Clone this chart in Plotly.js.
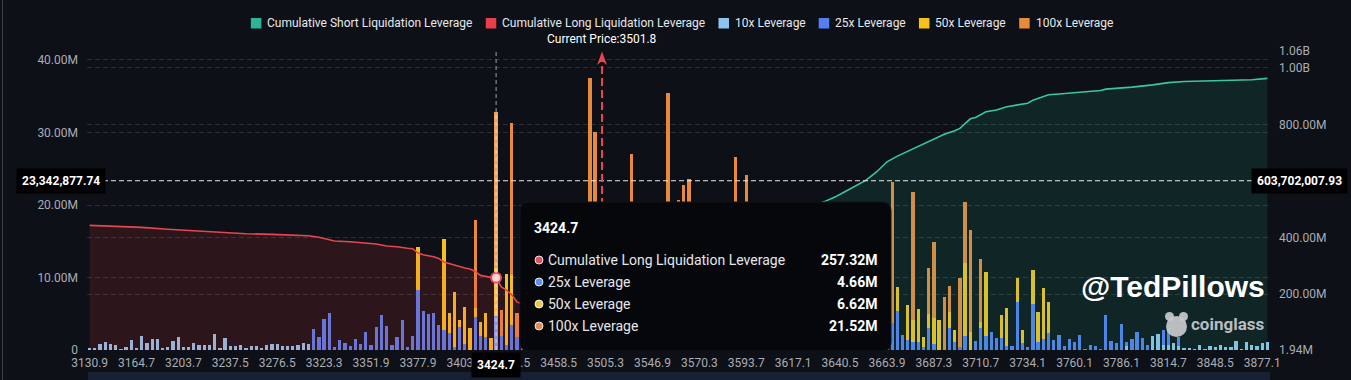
<!DOCTYPE html>
<html>
<head>
<meta charset="utf-8">
<script src="https://cdn.plot.ly/plotly-3.0.1.min.js"></script>
<style>
html,body{margin:0;padding:0;background:#0d1016;overflow:hidden;}
#chart{width:1351px;height:380px;}
</style>
</head>
<body>
<div id="chart"></div>
<script>
// ================= DATA (values in millions USD) =================
const tickLabels = ['3130.9','3164.7','3203.7','3237.5','3276.5','3323.3','3351.9','3377.9','3403.1','3437.5',
  '3458.5','3505.3','3546.9','3570.3','3593.7','3617.1','3640.5','3663.9','3687.3','3710.7',
  '3734.1','3760.1','3786.1','3814.7','3848.5','3877.1'];

const lev10 = [
  0.25,0.25,0.8,1.05,0.85,0.65,0.2,0.45,1.4,0.3,
  1.9,0.9,1.5,1.5,0.3,0.4,1.25,1.75,0.45,0.45,
  0.9,0.7,0.65,0.65,2.2,0.3,1.65,0.55,0.55,0.7,
  0.3,0.55,0.55,0.3,0.65,0.85,0.85,0.55,0.55,0.55,
  0.75,0.9,0.8,0,0,0,0,0,0,0,
  0,0,0,0,0,0,0,0,0,0,
  0,0,0,0,0,0,0,0,0,0,
  0,0,0,0,0,0,0,0,0,0,
  0,0,0,0,0,0,0,0,0,0,
  0,0,0,0,0,0,0,0,0,0,
  0,0,0,0,0,0,0,0,0,0,
  0,0,0,0,0,0,0,0,0,0,
  0,0,0,0,0,0,0,0,0,0,
  0,0,0,0,0,0,0,0,0,0,
  0,0,0,0,0,0,0,0,0,0,
  0,0,0,0,0,0,0,0,0,0,
  0,0,0,0,0,0,0,0,0,0,
  0,0,0,0,0,0,0,0,0,0,
  0,0,0,0,0,0,0,0,0,0,
  0,0,0,0,0,0,0,0,0,0.5,
  0,0,0,0,1.95,2.2,0.7,0.7,0.9,0.5,
  0.25,0.25,0.2,0.7,0.2,0.55,0.45,0.7,0.35,0.45,
  1.3,0.2,1.1,0.7,0.55,0.9,1.15];

const lev25 = [
  0,0,0,0,0,0,0,0,0,0,
  0,0,0,0,0,0,0,0,0,0,
  0,0,0,0,0,0,0,0,0,0,
  0,0,0,0,0,0,0,0,0,0,
  0,0,0,2.9,1.75,4.3,5.1,0.35,1.4,1.0,
  0.55,1.5,0.8,2.5,0.7,3.2,4.8,3.3,0.65,1.85,
  4.1,0.45,1.9,8.3,5.4,4.9,5.05,3.4,2.75,2.3,
  0.45,3.2,0.8,0,4.5,2.0,1.85,0,4.66,1.9,
  0.7,3.4,1.8,2.0,1.5,2.5,1.0,1.8,0.8,2.2,
  1.0,1.5,0.7,1.6,0.9,1.2,2.0,1.5,1.0,1.5,
  0.8,2.0,1.2,1.8,2.0,1.0,1.6,2.2,0.9,1.4,
  2.0,2.5,1.0,2.0,2.2,2.1,1.3,1.8,0.8,2.4,
  1.1,1.9,1.5,2.3,2.4,1.2,2.1,1.6,2.0,1.0,
  2.5,1.4,1.8,2.6,1.1,2.2,1.5,2.8,1.2,2.0,
  2.4,1.6,2.2,3.0,1.5,2.5,1.8,2.9,1.4,2.6,
  2.0,3.0,1.7,3.5,3.7,5.4,2.1,1.4,1.05,1.05,
  0.45,3.1,0.8,0,0,3.1,1.15,0.45,2.0,0,
  1.3,3.1,2.0,2.45,1.6,1.6,0.6,0.6,6.6,0.9,
  0.45,6.3,1.05,1.5,2.3,1.4,2.05,0.55,1.45,1.15,
  2.05,0.1,0.7,0.6,0.15,4.8,1.25,0.9,3.6,0.55,
  1.45,2.45,1.6,0.7,0,0,2.05,2.4,0,1.35,
  0,0,0,0,0,0,0,0,0,0,
  0,0,0,0,0,0,0];

const lev50 = [
  0,0,0,0,0,0,0,0,0,0,
  0,0,0,0,0,0,0,0,0,0,
  0,0,0,0,0,0,0,0,0,0,
  0,0,0,0,0,0,0,0,0,0,
  0,0,0,0,0,0,0,0,0,0,
  0,0,0,0,0,0,0,0,0,0,
  0,0,0,5.95,0,0,0,0,12.55,2.85,
  7.6,1.0,5.1,3.1,1.3,1.8,3.3,1.6,6.62,0,
  9.8,6.9,0,3.0,2.0,4.0,1.5,3.2,1.2,2.8,
  2.0,2.5,1.3,2.4,1.6,1.8,3.5,2.6,2.0,2.5,
  1.7,3.0,2.3,3.2,3.0,2.0,2.9,3.8,1.6,2.6,
  3.5,3.9,2.0,3.2,3.1,3.5,2.2,3.0,1.7,3.6,
  1.9,2.8,2.5,3.7,3.2,2.1,3.0,2.4,3.0,1.8,
  3.5,2.6,3.2,3.9,1.9,3.3,2.5,4.2,2.3,3.0,
  3.6,2.8,3.4,4.5,2.5,3.8,3.0,4.1,2.6,4.4,
  3.0,5.0,2.8,4.0,0,3.3,0,4.8,3.05,4.55,
  1.4,1.9,3.6,4.2,0,2.2,1.6,0,9.95,2.45,
  0,0.7,8.8,0,0,3.2,5.25,0,3.4,1.85,
  0,4.7,4.25,7.0,4.35,0,0,0,0,0,
  0,0,0,0,0,0,0,0,0,0,
  0,0,0,0,0,0,0,0,0,0,
  0,0,0,0,0,0,0,0,0,0,
  0,0,0,0,0,0,0];

const lev100 = [
  0,0,0,0,0,0,0,0,0,0,
  0,0,0,0,0,0,0,0,0,0,
  0,0,0,0,0,0,0,0,0,0,
  0,0,0,0,0,0,0,0,0,0,
  0,0,0,0,0,0,0,0,0,0,
  0,0,0,0,0,0,0,0,0,0,
  0,0,0,0,0,0,0,0,0,0,
  0,0,0,0,12.1,0,0,0,21.52,3.6,
  0,21.0,3.3,4.0,2.5,6.5,2.0,5.0,3.0,7.0,
  4.0,5.0,2.0,6.0,3.5,2.0,32.0,26.0,6.0,8.0,
  4.5,10.0,5.5,9.0,22.0,5.0,8.5,11.0,4.5,7.0,
  12.0,29.0,6.0,15.5,17.5,18.0,7.5,10.0,4.0,12.0,
  6.0,9.5,8.0,13.0,21.0,6.2,19.0,8.0,11.0,5.2,
  12.0,7.0,9.0,12.5,5.0,10.5,7.0,12.0,6.0,9.5,
  12.0,8.0,11.5,12.0,7.5,13.0,8.2,12.5,6.0,10.0,
  7.5,11.0,6.5,9.0,19.5,0,0,0,17.7,0,
  0,6.3,10.45,0,7.35,3.5,0,9.45,8.45,14.1,
  0,8.7,0,0,0,0,0,0,0,0,
  0,0,0,0,0,0,0,0,0,0,
  0,0,0,0,0,0,0,0,0,0,
  0,0,0,0,0,0,0,0,0,0,
  0,0,0,0,0,0,0,0,0,0,
  0,0,0,0,0,0,0];

// cumulative long liquidation (right axis, millions) at category index
const longCumIdx = [0,5,10,15,20,25,30,35,40,42,44,46,47,50,53,55,57,59,61,62,
  63,64,66,67,68,70,72,73,74,75,76,77,78,79,80,81,82,84,86,88,90,92,94,95,96,97];
const longCumM = [443,440.7,436,429,423,417,413.5,411,408,406,400.7,391,387.6,385,381.6,377,370,367.5,362,360.4,
  346,339,332,326,313.3,301.6,292,288.6,280,266,262,259,257.32,225,214,197,172,158,137,124,104,86,78,72,67.6,30.1];

// cumulative short liquidation (right axis, millions)
const shortCumIdx = [98,100,104,108,111,115,120,124,126,130,135,141,143,145,147,149,151,153,155,157,
  158,160,162,164,166,167,169,170,172,174,176,178,180,181,182,184,186,194,195,198,200,204,207,210,216,223,226];
const shortCumM = [8,35,85,130,185,270,330,385,425,455,490,527,543,563,583,603,632,668,688,705,
  716,733,750,765,778,786,820,825,845,851,863,870,875,886,892,905,908,920,925,928,932,940,948,952,954,958,963];

const legendNames = ['Cumulative Short Liquidation Leverage','Cumulative Long Liquidation Leverage',
  '10x Leverage','25x Leverage','50x Leverage','100x Leverage'];
const currentPrice = 3501.8;
const hoverBar = 78;
const hoverLabel = '3424.7';
const crosshairLeft = 23342877.74;
const crosshairRight = 603702007.93;
const leftTicks = [0,10,20,30,40];
const rightTicks = [1.94,200,400,600,800,1000,1060];

// ================= STYLE =================
const C = {
  bg:'#0d1016', short:'#3cc6a0', shortLeg:'#2bb596', long:'#e8464f', longLeg:'#e83e48',
  l10:'#8ec5ee', l25:'#557ef0', l50:'#f5c21b', l100:'#e8893c',
  l10h:'#a9d4f2', l25h:'#7f9ef3', l50h:'#f7cf50', l100h:'#eea060',
  grid:'rgba(255,255,255,0.13)', tick:'#a9adb5'
};
const W = 1351, H = 380;
const M = {l:87, r:81, t:51, b:30};
const PW = W - M.l - M.r, PH = H - M.t - M.b;
const px = x => (x - M.l) / PW;
const py = y => (H - M.b - y) / PH;
const TICK_STEP = 9;

const N = lev10.length;
const idx = lev10.map((_, i) => i);
const colorArr = (base, hi) => idx.map(i => i === hoverBar ? hi : base);

// current price position interpolated between labelled categories
const tickNums = tickLabels.map(Number);
let cpIdx = 0;
for (let k = 0; k < tickNums.length - 1; k++) {
  if (currentPrice >= tickNums[k] && currentPrice <= tickNums[k+1]) {
    cpIdx = k*TICK_STEP + TICK_STEP*(currentPrice - tickNums[k])/(tickNums[k+1]-tickNums[k]);
  }
}

const traces = [
  {type:'bar', x:idx, y:lev10, marker:{color:colorArr(C.l10,C.l10h), line:{width:0}}, hoverinfo:'skip', showlegend:false},
  {type:'bar', x:idx, y:lev25, marker:{color:colorArr(C.l25,C.l25h), line:{width:0}}, hoverinfo:'skip', showlegend:false},
  {type:'bar', x:idx, y:lev50, marker:{color:colorArr(C.l50,C.l50h), line:{width:0}}, hoverinfo:'skip', showlegend:false},
  {type:'bar', x:idx, y:lev100, marker:{color:colorArr(C.l100,C.l100h), line:{width:0}}, hoverinfo:'skip', showlegend:false},
  {type:'scatter', mode:'lines', x:longCumIdx, y:longCumM, yaxis:'y2', line:{color:C.long, width:1.6},
   fill:'tozeroy', fillcolor:'rgba(232,62,72,0.14)', hoverinfo:'skip', showlegend:false},
  {type:'scatter', mode:'lines', x:shortCumIdx, y:shortCumM, yaxis:'y2', line:{color:C.short, width:1.6},
   fill:'tozeroy', fillcolor:'rgba(40,182,150,0.13)', hoverinfo:'skip', showlegend:false},
  {type:'scatter', mode:'markers', x:[hoverBar], y:[longCumM[longCumIdx.indexOf(hoverBar)]], yaxis:'y2',
   marker:{size:10, color:'#f0d2d6', line:{color:C.long, width:2}}, hoverinfo:'skip', showlegend:false}
];

const shapes = [];
const annotations = [];

// left border + bottom slider strip
shapes.push({type:'line', xref:'paper', yref:'paper', x0:px(2.5), x1:px(2.5), y0:py(0), y1:py(380),
  line:{color:'#3a3e46', width:1}, layer:'above'});
shapes.push({type:'rect', xref:'paper', yref:'paper', x0:px(88), x1:px(1270), y0:py(372), y1:py(381),
  fillcolor:'#182033', line:{width:0}, layer:'above'});

// crosshair lines
shapes.push({type:'line', xref:'x', yref:'paper', x0:hoverBar, x1:hoverBar, y0:0, y1:1,
  line:{color:'rgba(255,255,255,0.6)', width:1, dash:'4px,3px'}, layer:'above'});
shapes.push({type:'line', xref:'paper', yref:'y', x0:0, x1:1, y0:crosshairLeft/1e6, y1:crosshairLeft/1e6,
  line:{color:'rgba(255,255,255,0.85)', width:1, dash:'5px,3px'}, layer:'above'});

// current price line + arrow
shapes.push({type:'line', xref:'x', yref:'paper', x0:cpIdx, x1:cpIdx, y0:0, y1:py(60),
  line:{color:C.long, width:2, dash:'8px,4px'}, layer:'above'});
const aw = 0.95;
shapes.push({type:'path', xref:'x', yref:'paper',
  path:`M ${cpIdx},${py(51.5)} L ${cpIdx+aw},${py(65)} L ${cpIdx},${py(61)} L ${cpIdx-aw},${py(65)} Z`,
  fillcolor:C.long, line:{width:0}, layer:'above'});
annotations.push({xref:'x', yref:'paper', x:cpIdx, y:py(39.5), text:'Current Price:' + currentPrice,
  showarrow:false, xanchor:'center', yanchor:'middle', font:{size:12, color:'#ffffff'}});

// tooltip box
function roundRect(x0, y0, x1, y1, r) {
  return `M ${px(x0+r)},${py(y0)} L ${px(x1-r)},${py(y0)} Q ${px(x1)},${py(y0)} ${px(x1)},${py(y0+r)} ` +
    `L ${px(x1)},${py(y1-r)} Q ${px(x1)},${py(y1)} ${px(x1-r)},${py(y1)} L ${px(x0+r)},${py(y1)} ` +
    `Q ${px(x0)},${py(y1)} ${px(x0)},${py(y1-r)} L ${px(x0)},${py(y0+r)} Q ${px(x0)},${py(y0)} ${px(x0+r)},${py(y0)} Z`;
}
shapes.push({type:'path', xref:'paper', yref:'paper', path:roundRect(520, 202, 891, 351, 9),
  fillcolor:'#05070a', line:{color:'#111419', width:1}, layer:'above'});
annotations.push({xref:'paper', yref:'paper', x:px(532), y:py(228), text:'<b>' + hoverLabel + '</b>',
  showarrow:false, xanchor:'left', yanchor:'middle', font:{size:14, color:'#ffffff'}});
const longAtHover = longCumM[longCumIdx.indexOf(hoverBar)];
const tipRows = [
  {name:legendNames[1], v:longAtHover, c:'#e0505c'},
  {name:legendNames[3], v:lev25[hoverBar], c:'#5f8ef2'},
  {name:legendNames[4], v:lev50[hoverBar], c:'#f2c744'},
  {name:legendNames[5], v:lev100[hoverBar], c:'#e38b52'}
];
const rowY = [260, 282, 304, 326];
tipRows.forEach((r, k) => {
  const yy = rowY[k];
  shapes.push({type:'circle', xref:'paper', yref:'paper', x0:px(535), x1:px(543), y0:py(yy-4), y1:py(yy+4),
    fillcolor:r.c, line:{color:'rgba(255,255,255,0.85)', width:1}, layer:'above'});
  annotations.push({xref:'paper', yref:'paper', x:px(546), y:py(yy), text:r.name, showarrow:false,
    xanchor:'left', yanchor:'middle', font:{size:14, color:'#e4e6ea'}});
  annotations.push({xref:'paper', yref:'paper', x:px(879), y:py(yy), text:'<b>' + r.v.toFixed(2) + 'M</b>',
    showarrow:false, xanchor:'right', yanchor:'middle', font:{size:14, color:'#ffffff'}});
});

// crosshair value labels
const fmt = v => v.toLocaleString('en-US', {minimumFractionDigits:2, maximumFractionDigits:2});
annotations.push({xref:'paper', yref:'y', x:px(106), y:crosshairLeft/1e6, text:'<b>' + fmt(crosshairLeft) + '</b>',
  showarrow:false, xanchor:'right', yanchor:'middle', bgcolor:'#000000', borderpad:5,
  font:{size:12, color:'#ffffff'}});
annotations.push({xref:'paper', yref:'y', x:px(1251), y:crosshairLeft/1e6, text:'<b>' + fmt(crosshairRight) + '</b>',
  showarrow:false, xanchor:'left', yanchor:'middle', bgcolor:'#000000', borderpad:5,
  font:{size:12, color:'#ffffff'}});
annotations.push({xref:'x', yref:'paper', x:hoverBar, y:py(365), text:'<b>' + hoverLabel + '</b>',
  showarrow:false, xanchor:'center', yanchor:'middle', bgcolor:'#000000', borderpad:5,
  font:{size:12, color:'#ffffff'}});

// watermark
annotations.push({xref:'paper', yref:'paper', x:px(1267), y:py(286), text:'<b>@TedPillows</b>',
  showarrow:false, xanchor:'right', yanchor:'middle', font:{family:'Liberation Sans, Arial, sans-serif', size:30, color:'#ffffff'}});
annotations.push({xref:'paper', yref:'paper', x:px(1267), y:py(324), text:'<b>coinglass</b>',
  showarrow:false, xanchor:'right', yanchor:'middle', font:{family:'Roboto', size:17, color:'#b9bdc1'}});
shapes.push({type:'circle', xref:'paper', yref:'paper', x0:px(1166), x1:px(1187), y0:py(316), y1:py(337),
  fillcolor:'rgba(200,202,204,0.92)', line:{width:0}, layer:'above'});
shapes.push({type:'circle', xref:'paper', yref:'paper', x0:px(1165), x1:px(1174), y0:py(312), y1:py(321),
  fillcolor:'rgba(200,202,204,0.92)', line:{width:0}, layer:'above'});
shapes.push({type:'circle', xref:'paper', yref:'paper', x0:px(1179), x1:px(1188), y0:py(312), y1:py(321),
  fillcolor:'rgba(200,202,204,0.92)', line:{width:0}, layer:'above'});

// custom legend
const legColors = [C.shortLeg, C.longLeg, C.l10, C.l25, C.l50, C.l100];
const ctx = document.createElement('canvas').getContext('2d');
ctx.font = '12px Roboto';
const widths = legendNames.map(n => ctx.measureText(n).width);
const SQ = 10.5, G1 = 5, G2 = 14;
const totalW = widths.reduce((a, w) => a + SQ + G1 + w, 0) + G2 * (widths.length - 1);
let lx = 681.5 - totalW / 2;
legendNames.forEach((n, k) => {
  shapes.push({type:'rect', xref:'paper', yref:'paper', x0:px(lx), x1:px(lx+SQ), y0:py(28.5), y1:py(18),
    fillcolor:legColors[k], line:{width:0}, layer:'above'});
  annotations.push({xref:'paper', yref:'paper', x:px(lx+SQ+G1-1), y:py(23.5), text:n, showarrow:false,
    xanchor:'left', yanchor:'middle', font:{size:12, color:'#e6e8ec'}});
  lx += SQ + G1 + widths[k] + G2;
});

// right-axis label under the crosshair box is hidden in the reference
const rightText = rightTicks.map(v => v === 600 ? '' : (v >= 1000 ? (v/1000).toFixed(2) + 'B' : v.toFixed(2) + 'M'));

const layout = {
  width:W, height:H, margin:{l:M.l, r:M.r, t:M.t, b:M.b, pad:0},
  paper_bgcolor:C.bg, plot_bgcolor:C.bg,
  font:{family:'Roboto, sans-serif', size:12, color:C.tick},
  barmode:'stack', bargap:0.37, showlegend:false,
  xaxis:{range:[-0.5, N-0.5], tickmode:'array', tickvals:tickLabels.map((_, k) => k*TICK_STEP), ticktext:tickLabels,
    tickangle:0, showgrid:false, zeroline:false, showline:false, ticks:'', ticklabelstandoff:4,
    tickfont:{size:12, color:C.tick}, fixedrange:true},
  yaxis:{range:[0, 41.24], tickmode:'array', tickvals:leftTicks,
    ticktext:leftTicks.map(v => v === 0 ? '0' : v.toFixed(2) + 'M'),
    showgrid:true, gridcolor:C.grid, griddash:'5px,3px', gridwidth:1, zeroline:false, showline:false, ticks:'',
    ticklabelstandoff:8, tickfont:{size:12, color:C.tick}, fixedrange:true},
  yaxis2:{overlaying:'y', side:'right', range:[1.94, 1060], tickmode:'array', tickvals:rightTicks,
    ticktext:rightText,
    showgrid:true, gridcolor:C.grid, griddash:'5px,3px', gridwidth:1, zeroline:false, showline:false, ticks:'',
    ticklabelstandoff:8, tickfont:{size:12, color:C.tick}, fixedrange:true},
  shapes:shapes, annotations:annotations
};

Plotly.newPlot('chart', traces, layout, {staticPlot:true, displayModeBar:false});
</script>
</body>
</html>
